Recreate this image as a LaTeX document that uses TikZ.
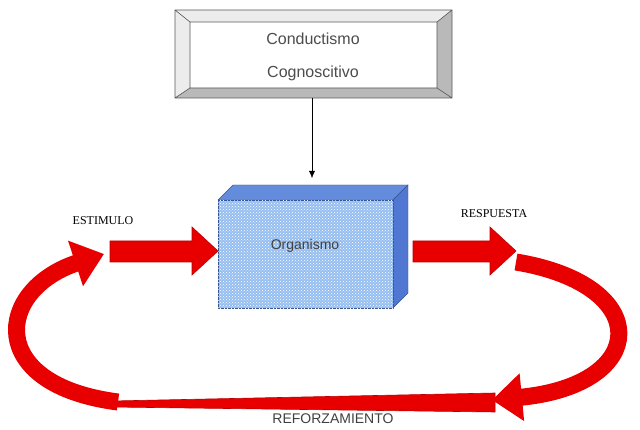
\documentclass[tikz,border=0pt]{standalone}
\usepackage{fontspec}
\setmainfont{Liberation Serif}
\newfontfamily\arialf{Liberation Sans}
\usetikzlibrary{arrows.meta,patterns}
\definecolor{rd}{RGB}{232,0,0}
\definecolor{cubeF}{RGB}{150,190,240}
\definecolor{cubeT}{RGB}{100,140,220}
\definecolor{cubeS}{RGB}{80,120,210}
\tikzset{
  redarrow/.style={draw=rd!80!black,fill=rd,line width=0.6pt},
  curvearrow/.style={draw=rd,line width=17pt,-{Triangle[width=46pt,length=30pt]}},
  lbl/.style={font=\fontsize{12}{14}\selectfont}
}
\begin{document}
\begin{tikzpicture}[x=1pt,y=-1pt]
\useasboundingbox (0,0) rectangle (640,430);
% top beveled box
\fill[white] (175,10) rectangle (452,98);
\fill[gray!15] (175,10) -- (452,10) -- (437,22) -- (190,22) -- (190,88) -- (175,98) -- cycle;
\fill[gray!55] (452,10) -- (452,98) -- (175,98) -- (190,88) -- (437,88) -- (437,22) -- cycle;
\draw[gray!70!black,line width=0.6pt] (175,10) rectangle (452,98) (190,22) rectangle (437,88)
  (175,10)--(190,22) (452,10)--(437,22) (175,98)--(190,88) (452,98)--(437,88);
\node[font=\arialf\fontsize{16}{18}\selectfont,text=gray!60!black] (t1) at (313,39) {Conductismo};
\node[font=\arialf\fontsize{16}{18}\selectfont,text=gray!60!black] (t2) at (313,73) {Cognoscitivo};
\coordinate (tb) at (312,98);
% cube
\fill[cubeT,draw=cubeS!70!black] (218,200) -- (233,185) -- (408,185) -- (393,200) -- cycle;
\fill[cubeS,draw=cubeS!70!black] (393,200) -- (408,185) -- (408,293) -- (393,308) -- cycle;
\fill[cubeF] (218,200) rectangle (393,308);
\fill[pattern=crosshatch dots,pattern color=white] (218,200) rectangle (393,308);
\draw[cubeS!70!black,densely dotted] (218,200) rectangle (393,308);
\node[font=\arialf\fontsize{14}{16}\selectfont,text=gray!50!black] (org) at (305,246) {Organismo};
\coordinate (ct) at (312,178);
\draw[-{Latex[length=7pt,width=6pt]}] (tb) -- (ct);
% straight arrows
\fill[redarrow] (110,241) -- (192,241) -- (192,227) -- (218,251) -- (192,275) -- (192,262) -- (110,262) -- cycle;
\fill[redarrow] (413,241) -- (490,241) -- (490,227) -- (516,251) -- (490,275) -- (490,262) -- (413,262) -- cycle;
\node[lbl] (est) at (103,221) {ESTIMULO};
\node[lbl] (resp) at (494,214) {RESPUESTA};
% bottom tapered bar
\fill[redarrow] (495,393) -- (495,412) -- (112,407) -- (112,401) -- cycle;
\node[font=\arialf\fontsize{14}{16}\selectfont,text=gray!50!black] (ref) at (333,419) {REFORZAMIENTO};
% curved arrows
\draw[curvearrow] (516,262) .. controls (655,285) and (650,385) .. (492,400);
\draw[curvearrow] (118,402) .. controls (-15,385) and (-5,290) .. (104,254);
\end{tikzpicture}
\end{document}
